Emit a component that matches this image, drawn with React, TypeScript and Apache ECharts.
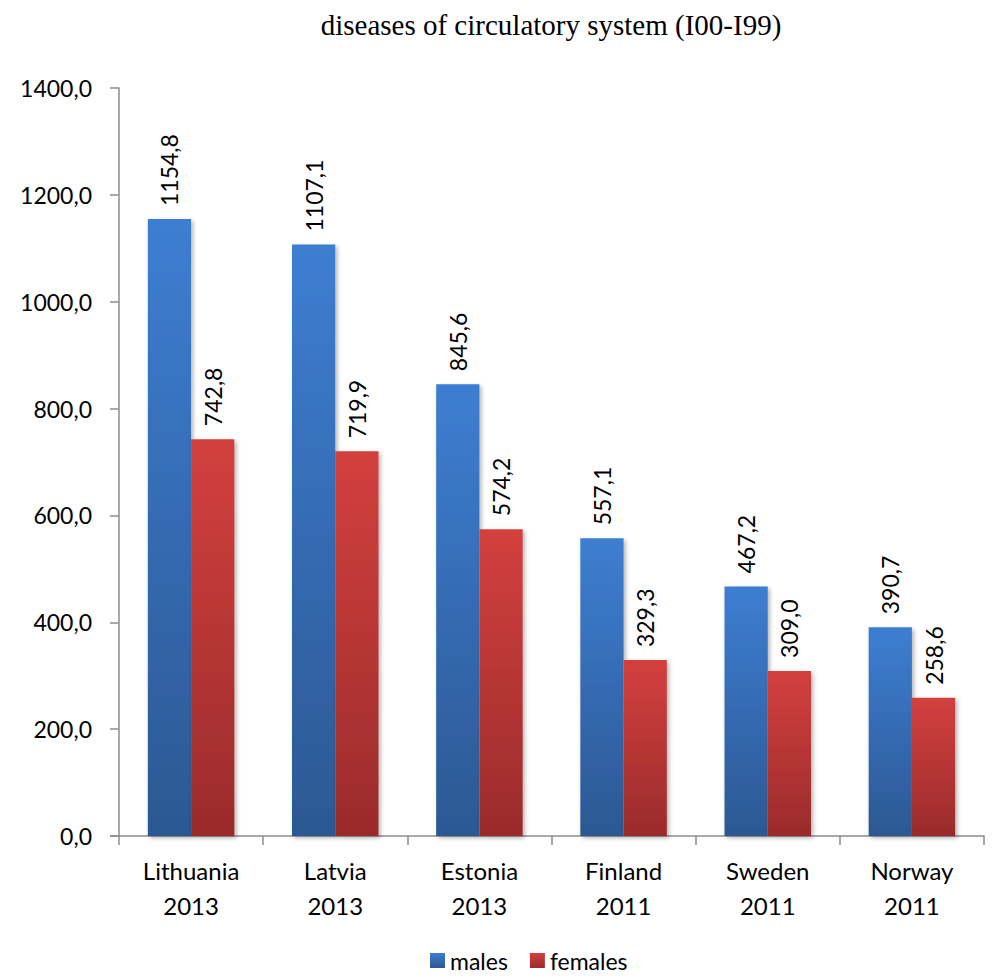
import React, { useEffect, useRef } from "react";
import * as echarts from "echarts";

const categories = ["Lithuania\n2013", "Latvia\n2013", "Estonia\n2013", "Finland\n2011", "Sweden\n2011", "Norway\n2011"];
const males = [1154.8, 1107.1, 845.6, 557.1, 467.2, 390.7];
const females = [742.8, 719.9, 574.2, 329.3, 309.0, 258.6];
const titleText = "diseases of circulatory system (I00-I99)";

const fmt = (v: number) => v.toFixed(1).replace(".", ",");
const FONT = "Lato";

export default function App() {
  const ref = useRef<HTMLDivElement>(null);
  useEffect(() => {
    document.body.style.margin = "0";
    const chart = echarts.init(ref.current!, null, { renderer: "svg" });
    const label = {
      show: true,
      position: "top",
      rotate: 90,
      align: "left",
      verticalAlign: "middle",
      distance: 13,
      fontFamily: FONT,
      fontSize: 23,
      color: "#000",
      formatter: (p: any) => fmt(p.value),
    };
    const grad = (top: string, bottom: string) =>
      new echarts.graphic.LinearGradient(0, 0, 0, 1, [
        { offset: 0, color: top },
        { offset: 1, color: bottom },
      ]);
    chart.setOption({
      animation: false,
      title: {
        text: titleText,
        left: 546,
        textAlign: "center",
        top: 5,
        textStyle: { fontFamily: "Liberation Serif", fontWeight: "normal", fontSize: 29, color: "#000" },
      },
      legend: {
        bottom: 2,
        left: 425,
        itemWidth: 15,
        itemHeight: 15,
        itemGap: 22,
        icon: "rect",
        textStyle: { fontFamily: FONT, fontSize: 23, color: "#000" },
        data: ["males", "females"],
      },
      grid: { left: 119, right: 11, top: 88, bottom: 143, containLabel: false },
      xAxis: {
        type: "category",
        data: categories,
        axisLine: { lineStyle: { color: "#8c8c8c", width: 1.5 } },
        axisTick: { show: true, length: 9, lineStyle: { color: "#8c8c8c", width: 1.5 } },
        axisLabel: { fontFamily: FONT, fontSize: 24, color: "#000", lineHeight: 35, margin: 17 },
      },
      yAxis: {
        type: "value",
        min: 0,
        max: 1400,
        interval: 200,
        axisLine: { show: true, lineStyle: { color: "#8c8c8c", width: 1.5 } },
        axisTick: { show: true, length: 9, lineStyle: { color: "#8c8c8c", width: 1.5 } },
        splitLine: { show: false },
        axisLabel: { fontFamily: FONT, fontSize: 23, color: "#000", margin: 27, formatter: (v: number) => fmt(v) },
      },
      series: [
        {
          name: "males",
          type: "bar",
          data: males,
          barGap: "0%",
          barCategoryGap: "40%",
          itemStyle: {
            color: grad("#3d7ed2", "#2c5892"),
            shadowColor: "rgba(0,0,0,0.3)",
            shadowBlur: 4,
            shadowOffsetX: 2,
            shadowOffsetY: 2,
          },
          label,
        },
        {
          name: "females",
          type: "bar",
          data: females,
          itemStyle: {
            color: grad("#d3403e", "#9a2b2b"),
            shadowColor: "rgba(0,0,0,0.3)",
            shadowBlur: 4,
            shadowOffsetX: 2,
            shadowOffsetY: 2,
          },
          label,
        },
      ],
      graphic: [
        {
          type: "line",
          shape: { x1: 110, y1: 836, x2: 119, y2: 836 },
          style: { stroke: "#8c8c8c", lineWidth: 1.5 },
        },
      ],
    });
    return () => chart.dispose();
  }, []);
  return <div ref={ref} style={{ width: 995, height: 979 }} />;
}
